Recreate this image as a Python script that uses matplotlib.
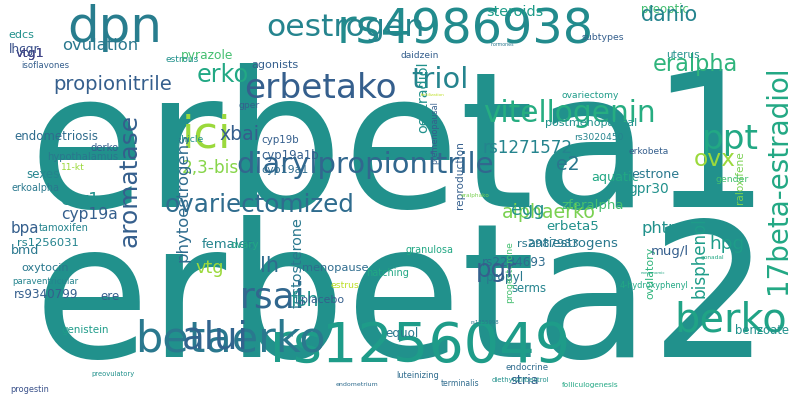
import matplotlib
matplotlib.use("Agg")
import matplotlib.pyplot as plt
from matplotlib import font_manager

# word, start, end (along text direction, px), centre across (px), rotated?, viridis value
words = ["erbeta1","erbeta2","rs1256049","rs4986938","dpn","betaerko","oestrogen","erbetako",
 "diarylpropionitrile","ovariectomized","vitellogenin","berko","ppt","17beta-estradiol","aromatase",
 "ici","alphaerko","alui","rsai","eralpha","erko","triol","propionitrile","ovulation","steroids",
 "pyrazole","vtg1","bisphenol","ovx","e2","esr1","cyp19a","2,3-bis","phytoestrogens","testosterone",
 "bpa","tamoxifen","rs1256031","endometriosis","hypothalamus","11-kt","sexes","derko","erkoalpha",
 "vtg","females","xbai","menopause","lh","gper","postmenopausal","premenopausal","reproduction",
 "oestradiol","rs3020450","rs1271572","cyp19b","cyp19a1b","cyp19a1","hpg","phtpp","aquatic","gpr30",
 "estrone","erkobeta","raloxifene","ovulatory","erbeta5","rs2987983","rs2234693","propyl","serms",
 "progesterone","antiestrogens","4-hydroxyphenyl","benzoate","mug/l","granulosa","oxytocin",
 "paraventricular","rs9340799","genistein","ere","bmd","progestin","preovulatory","endometrium",
 "luteinizing","endocrine","folliculogenesis","terminalis","hatching","estrus","fsh","ovary","vtg1",
 "isoflavones","lhcgr","edcs","subtypes","preoptic","ovariectomy","danio","gonadal","pgr","daidzein",
 "hormones","stria","diethylstilbestrol","placebo","equol","fertilization","zferalpha","estrous",
 "vehicle","gender","uterus","eralphako","egg","nongenomic","agonists","rs1255998","puberty"]
starts = [10,15,262,330,65,130,262,240,230,160,478,672,700,60,110,180,500,180,238,650,195,410,50,60,485,
 180,15,215,693,555,60,60,180,130,215,10,38,15,12,45,60,25,90,10,195,200,218,300,260,238,543,100,140,60,
 573,480,260,260,260,708,640,590,627,630,628,150,245,545,515,480,485,510,240,525,618,733,650,405,20,10,12,
 60,100,10,10,90,335,395,505,560,440,365,330,290,230,15,20,8,8,580,640,560,640,700,475,400,490,510,490,
 300,385,420,560,165,170,715,665,460,510,640,250,470,275,580]
ends = [790,790,578,600,165,330,428,400,500,360,660,790,760,300,250,232,598,250,307,740,250,470,175,140,545,
 235,45,300,737,580,100,120,240,265,310,40,90,80,100,120,85,60,120,60,225,255,260,370,280,260,640,165,210,
 135,625,575,300,320,310,745,690,640,670,680,670,205,300,600,580,548,525,547,305,620,690,790,690,455,70,80,
 80,110,120,40,50,135,380,440,550,620,480,410,360,320,260,45,70,40,35,625,690,620,700,725,518,440,515,
 540,550,345,420,445,625,200,205,750,700,490,545,665,300,500,330,625]
across = [155,305,347,30,28,340,28,88,165,205,113,320,140,778,130,135,212,338,297,65,75,80,85,45,12,55,53,
 700,160,165,200,215,168,183,298,228,228,243,136,157,168,175,148,188,268,245,135,268,266,105,123,435,460,
 423,138,148,140,155,170,244,229,178,189,174,151,740,650,226,244,263,278,288,510,244,285,331,252,250,268,
 282,295,330,296,250,389,374,384,375,367,385,384,273,285,300,245,53,65,50,35,38,10,95,15,258,270,55,45,
 380,380,300,333,95,205,60,140,180,55,195,210,273,65,323,355,345]
rotated = [0,0,0,0,0,0,0,0,0,0,0,0,0,1,1,0,0,0,0,0,0,0,0,0,0,0,0,1,0,0,0,0,0,1,1,0,0,0,0,0,0,0,0,0,0,0,0,
 0,0,0,0,1,1,1,0,0,0,0,0,0,0,0,0,0,0,1,1,0,0,0,0,0,1,0,0,0,0,0,0,0,0,0,0,0,0,0,0,0,0,0,0,0,0,0,0,0,0,
 0,0,0,0,0,0,0,0,0,0,0,0,0,0,0,0,0,0,0,0,0,0,0,0,0]
shade = [.5,.5,.55,.48,.42,.4,.45,.3,.33,.35,.62,.58,.6,.6,.3,.85,.8,.32,.33,.65,.6,.45,.3,.4,.55,.7,.2,.55,
 .85,.4,.5,.3,.82,.35,.4,.3,.45,.45,.35,.4,.85,.45,.3,.4,.85,.45,.3,.35,.35,.3,.5,.3,.3,.5,.45,.45,.3,.3,
 .35,.55,.5,.6,.5,.4,.3,.8,.65,.5,.4,.35,.4,.45,.7,.4,.6,.5,.3,.6,.4,.45,.3,.55,.3,.4,.25,.5,.35,.35,.35,
 .6,.35,.6,.9,.5,.6,.2,.3,.25,.5,.3,.7,.55,.45,.6,.3,.3,.4,.3,.5,.3,.4,.9,.7,.5,.5,.7,.5,.8,.5,.6,.3,.4]

names = {f.name for f in font_manager.fontManager.ttflist}
fam = "Liberation Sans Narrow" if "Liberation Sans Narrow" in names else "DejaVu Sans"

fig = plt.figure(figsize=(8.08, 4.04), dpi=100)
ax = fig.add_axes([0, 0, 1, 1])
ax.set_xlim(0, 808); ax.set_ylim(404, 0); ax.axis("off")
fig.patch.set_facecolor("white")
r = fig.canvas.get_renderer()
cmap = matplotlib.colormaps["viridis"]
for w, s, e, c, rot, v in zip(words, starts, ends, across, rotated, shade):
    mid = (s + e) / 2
    x, y = (c, mid) if rot else (mid, c)
    t = ax.text(x, y, w, rotation=90 if rot else 0, ha="center", va="center",
                fontsize=20, color=cmap(v), family=fam)
    bb = t.get_window_extent(r)
    L = bb.height if rot else bb.width
    t.set_fontsize(20 * (e - s) / L * 0.95)
fig.savefig("out.png", dpi=100, facecolor="white")
